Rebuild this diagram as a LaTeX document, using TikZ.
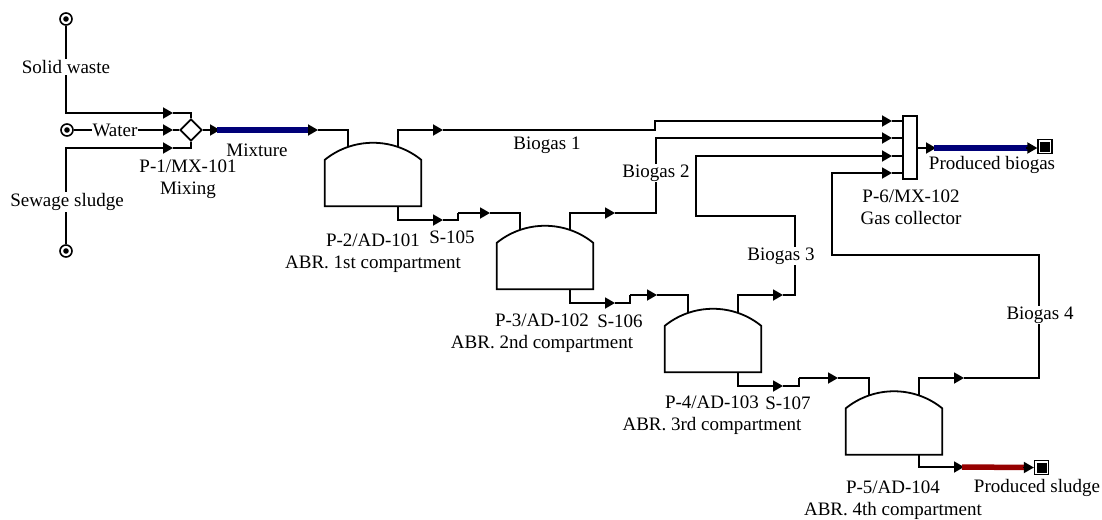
\documentclass[tikz,border=0pt]{standalone}
\usepackage{fontspec}
\setmainfont{Liberation Serif}
\usetikzlibrary{calc, arrows.meta, shapes.geometric}
\tikzset{
    stream/.style={line width=1.8pt, line join=miter},
    flow/.style={stream, -{Triangle[length=10pt, width=11pt]}},
    bluepipe/.style={line width=5.5pt, draw={rgb,255:red,0;green,0;blue,120}},
    redpipe/.style={line width=5.5pt, draw={rgb,255:red,150;green,0;blue,0}},
    tankbody/.style={minimum width=96pt, minimum height=63pt, inner sep=0pt},
    source/.style={circle, draw, line width=1.6pt, fill=white, minimum size=12pt, inner sep=0pt},
    sink/.style={rectangle, draw, line width=1.3pt, fill=white, minimum size=14pt, inner sep=0pt},
    lbl/.style={inner sep=1pt, align=center, font=\fontsize{19}{22}\selectfont},
    cutlbl/.style={lbl, fill=white},
    common settings/.style={x=1pt, y=-1pt}
}
\begin{document}
\begin{tikzpicture}[common settings]
    \useasboundingbox (0,0) rectangle (1102,519);

    % Tanks, with nozzles at the dome and at the bottom
    \foreach \name/\cx/\cy in {t1/373/174.5, t2/545/257.5, t3/713/340.5, t4/894/423}{
        \node[tankbody] (\name) at (\cx,\cy) {};
        \draw[stream] ($(\name.south west)$) -- ($(\name.north west)+(0,17)$)
            .. controls ($(\name.north west)+(28,-5.7)$) and ($(\name.north east)+(-28,-5.7)$) .. ($(\name.north east)+(0,17)$)
            -- ($(\name.south east)$) -- cycle;
        \coordinate (\name in) at ($(\name.north)+(-25,4)$);
        \coordinate (\name gas) at ($(\name.north)+(25,4)$);
        \coordinate (\name out) at ($(\name.south)+(25,0)$);
    }

    % Mixer, collector and stream ends
    \node[diamond, draw, line width=1.7pt, minimum size=22pt, inner sep=0pt] (mix) at (191,130) {};
    \node[rectangle, draw, line width=1.7pt, minimum width=14pt, minimum height=63pt, inner sep=0pt] (coll) at (910,147.5) {};
    \node[source] (solid) at (66,19) {};
    \node[source] (water) at (67,130) {};
    \node[source] (sewage) at (66,251) {};
    \node[sink] (gasend) at (1045,146.5) {};
    \node[sink] (sludgeend) at (1041.5,467.5) {};
    \foreach \n in {solid, water, sewage}
        \fill (\n.center) circle (2.8);
    \foreach \n in {gasend, sludgeend}
        \fill ($(\n.center)+(-5,-5)$) rectangle +(10,10);

    % Arrow positions along the streams
    \coordinate (a1) at (173,113);
    \coordinate (a2) at (173,130);
    \coordinate (a3) at (173,148);
    \coordinate (m1) at (220,130);
    \coordinate (m2) at (318,130);
    \coordinate (g1) at (443,130);
    \coordinate (g2) at (615,213);
    \coordinate (g3) at (783,295);
    \coordinate (g4) at (964,378);
    \coordinate (c1) at (892,121);
    \coordinate (c2) at (892,138);
    \coordinate (c3) at (892,156);
    \coordinate (c4) at (892,173);
    \coordinate (s1) at (443,220);
    \coordinate (s2) at (490,213);
    \coordinate (s3) at (615,303);
    \coordinate (s4) at (657,295);
    \coordinate (s5) at (783,386);
    \coordinate (s6) at (838,378);
    \coordinate (p1) at (936,148);
    \coordinate (p2) at (964,467);

    % Feeds into the mixer
    \draw[flow] (solid) |- (a1);
    \draw[stream] (a1) -| (mix.north);
    \draw[flow] (water) -- (a2);
    \draw[stream] (a2) -- (mix.west);
    \draw[flow] (sewage) |- (a3);
    \draw[stream] (a3) -| (mix.south);

    % Mixture to the first tank
    \draw[flow] (mix.east) -- (m1);
    \draw[bluepipe] ($(m1)+(-3,0)$) -- ($(m2)+(-6,0)$);
    \draw[flow] ($(m2)+(-9,0)$) -- (m2);
    \draw[stream] (m2) -| (t1in);

    % Biogas lines
    \draw[flow] (t1gas) |- (g1);
    \draw[flow] (g1) -- (655,130) -- (655,121) -- (c1);
    \draw[flow] (t2gas) |- (g2);
    \draw[flow] (g2) -- (656,213) -- (656,138) -- (c2);
    \draw[flow] (t3gas) |- (g3);
    \draw[flow] (g3) -- (795,295) -- (795,216) -- (696,216) -- (696,156) -- (c3);
    \draw[flow] (t4gas) |- (g4);
    \draw[flow] (g4) -- (1039,378) -- (1039,255) -- (832,255) -- (832,173) -- (c4);
    \foreach \c in {c1, c2, c3, c4}
        \draw[stream] (\c) -- (coll.west |- \c);

    % Liquid between the tanks
    \draw[flow] (t1out) |- (s1);
    \draw[stream] (s1) -- (458,220) -- (458,213);
    \draw[flow] (458,213) -- (s2);
    \draw[stream] (s2) -| (t2in);
    \draw[flow] (t2out) |- (s3);
    \draw[stream] (s3) -- (630,303) -- (630,295);
    \draw[flow] (630,295) -- (s4);
    \draw[stream] (s4) -| (t3in);
    \draw[flow] (t3out) |- (s5);
    \draw[stream] (s5) -- (799,386) -- (799,378);
    \draw[flow] (799,378) -- (s6);
    \draw[stream] (s6) -| (t4in);

    % Products
    \draw[flow] (coll.east |- p1) -- (p1);
    \draw[bluepipe] ($(p1)+(-2,0)$) -- ($(gasend.west |- p1)+(-6,0)$);
    \draw[flow] ($(gasend.west |- p1)+(-11,0)$) -- (gasend.west |- p1);
    \draw[flow] (t4out) |- (p2);
    \draw[redpipe] ($(p2)+(-2,0)$) -- ($(sludgeend.west)+(-6,0)$);
    \draw[flow] ($(sludgeend.west)+(-11,0)$) -- (sludgeend.west);

    % Labels
    \node[cutlbl] (lsolid) at (66,67) {Solid waste};
    \node[cutlbl] (lwater) at (115,130) {Water};
    \node[cutlbl] (lsewage) at (67,202) {Sewage sludge};
    \node[lbl] (lmixture) at (257,150) {Mixture};
    \node[lbl] (lmix) at (188,179) {P-1/MX-101\\Mixing};
    \node[lbl] (lt1) at (373,253) {P-2/AD-101\\ABR. 1st compartment};
    \node[lbl] (lt2) at (542,333) {P-3/AD-102\\ABR. 2nd compartment};
    \node[lbl] (lt3) at (712,415.5) {P-4/AD-103\\ABR. 3rd compartment};
    \node[lbl] (lt4) at (893,500) {P-5/AD-104\\ABR. 4th compartment};
    \node[lbl] (ls1) at (452,237) {S-105};
    \node[lbl] (ls2) at (620,321) {S-106};
    \node[lbl] (ls3) at (788,403) {S-107};
    \node[lbl] (lb1) at (547,145) {Biogas 1};
    \node[cutlbl] (lb2) at (656,173) {Biogas 2};
    \node[cutlbl] (lb3) at (781,256) {Biogas 3};
    \node[cutlbl] (lb4) at (1040,315) {Biogas 4};
    \node[lbl] (lcoll) at (911,207.5) {P-6/MX-102\\Gas collector};
    \node[lbl] (lgas) at (992,165) {Produced biogas};
    \node[lbl] (lsludge) at (1037,488) {Produced sludge};
\end{tikzpicture}
\end{document}
